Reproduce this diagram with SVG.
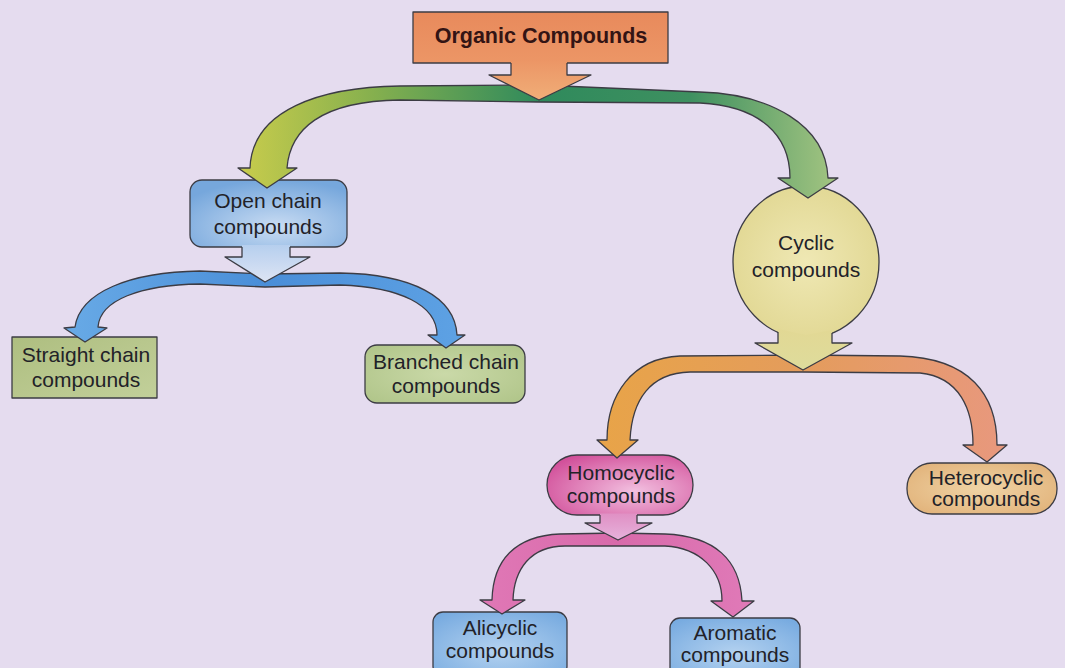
<svg xmlns="http://www.w3.org/2000/svg" width="1065" height="668" viewBox="0 0 1065 668">
<defs>
<style>
.t{font-family:"Liberation Sans",Arial,sans-serif;font-size:21px;fill:#222228;text-anchor:middle}
.tb{font-family:"Liberation Sans",Arial,sans-serif;font-size:21.5px;font-weight:bold;fill:#331414;text-anchor:middle}
.ol{stroke:#3c3c44;stroke-width:1.3;stroke-linejoin:round}
.ln{fill:none;stroke:#3c3c44;stroke-width:1.3;stroke-linejoin:round}
</style>
<radialGradient id="gOpen" cx="0.55" cy="0.7" r="0.7"><stop offset="0" stop-color="#c9dcf3"/><stop offset="1" stop-color="#76a7dc"/></radialGradient>
<radialGradient id="gBlue" cx="0.5" cy="0.6" r="0.7"><stop offset="0" stop-color="#b4d2f0"/><stop offset="1" stop-color="#78abe0"/></radialGradient>
<radialGradient id="gCyc" cx="0.5" cy="0.5" r="0.6"><stop offset="0" stop-color="#efe8b4"/><stop offset="1" stop-color="#e0d690"/></radialGradient>
<radialGradient id="gHomo" cx="0.6" cy="0.6" r="0.7"><stop offset="0" stop-color="#f2c0e0"/><stop offset="1" stop-color="#d2509a"/></radialGradient>
<radialGradient id="gHet" cx="0.5" cy="0.5" r="0.6"><stop offset="0" stop-color="#f0d4a6"/><stop offset="1" stop-color="#e2b47c"/></radialGradient>
<linearGradient id="gStr" x1="0" y1="0" x2="1" y2="1"><stop offset="0" stop-color="#aebe80"/><stop offset="1" stop-color="#c2d09a"/></linearGradient>
<radialGradient id="gBr" cx="0.5" cy="0.5" r="0.7"><stop offset="0" stop-color="#cad9a8"/><stop offset="1" stop-color="#afc488"/></radialGradient>
<linearGradient id="gOrg" x1="0" y1="0" x2="0" y2="1"><stop offset="0" stop-color="#e88a5c"/><stop offset="1" stop-color="#ec9666"/></linearGradient>
<linearGradient id="gOrgStem" x1="0" y1="0" x2="0" y2="1"><stop offset="0" stop-color="#ec9666"/><stop offset="1" stop-color="#f0ae78"/></linearGradient>
<linearGradient id="gOpenStem" x1="0" y1="0" x2="0" y2="1"><stop offset="0" stop-color="#b6cfee"/><stop offset="1" stop-color="#dde4f4"/></linearGradient>
<linearGradient id="gCycStem" x1="0" y1="0" x2="0" y2="1"><stop offset="0" stop-color="#e2d894"/><stop offset="1" stop-color="#dedc9c"/></linearGradient>
<linearGradient id="gHomoStem" x1="0" y1="0" x2="0" y2="1"><stop offset="0" stop-color="#e090c4"/><stop offset="1" stop-color="#e6b2dc"/></linearGradient>
<linearGradient id="bGreen" gradientUnits="userSpaceOnUse" x1="240" y1="0" x2="840" y2="0"><stop offset="0" stop-color="#c8cc4c"/><stop offset="0.22" stop-color="#86b04e"/><stop offset="0.5" stop-color="#2f8a5c"/><stop offset="0.75" stop-color="#3e9060"/><stop offset="1" stop-color="#a6c682"/></linearGradient>
<linearGradient id="bBlue" gradientUnits="userSpaceOnUse" x1="65" y1="0" x2="465" y2="0"><stop offset="0" stop-color="#68aae6"/><stop offset="0.5" stop-color="#4a8ed8"/><stop offset="1" stop-color="#5ea2e4"/></linearGradient>
<linearGradient id="bOrange" gradientUnits="userSpaceOnUse" x1="597" y1="0" x2="1007" y2="0"><stop offset="0" stop-color="#e8a448"/><stop offset="0.5" stop-color="#e49c5c"/><stop offset="1" stop-color="#e8987e"/></linearGradient>
<linearGradient id="bPink" gradientUnits="userSpaceOnUse" x1="480" y1="0" x2="754" y2="0"><stop offset="0" stop-color="#e078b6"/><stop offset="0.5" stop-color="#d86aaa"/><stop offset="1" stop-color="#e07ab8"/></linearGradient>
</defs>
<rect width="1065" height="668" fill="#e5dcef"/>

<g id="organic">
<rect x="413" y="12" width="255" height="51" fill="url(#gOrg)" class="ol"/>
<text x="541" y="43" class="tb">Organic Compounds</text>
</g>
<g id="open-chain">
<rect x="190" y="180" width="157" height="67" rx="12" fill="url(#gOpen)" class="ol"/>
<text x="268" y="208" class="t">Open chain</text>
<text x="268" y="234" class="t">compounds</text>
</g>
<g id="cyclic">
<ellipse cx="806" cy="262" rx="73" ry="76" fill="url(#gCyc)" class="ol"/>
<text x="806" y="250" class="t">Cyclic</text>
<text x="806" y="277" class="t">compounds</text>
</g>
<g id="straight-chain">
<rect x="12" y="337" width="145" height="61" fill="url(#gStr)" class="ol"/>
<text x="86" y="362" class="t">Straight chain</text>
<text x="86" y="387" class="t">compounds</text>
</g>
<g id="branched-chain">
<rect x="365" y="345" width="160" height="58" rx="12" fill="url(#gBr)" class="ol"/>
<text x="446" y="369" class="t">Branched chain</text>
<text x="446" y="393" class="t">compounds</text>
</g>
<g id="homocyclic">
<rect x="547" y="455" width="146" height="60" rx="30" fill="url(#gHomo)" class="ol"/>
<text x="621" y="480" class="t">Homocyclic</text>
<text x="621" y="503" class="t">compounds</text>
</g>
<g id="heterocyclic">
<rect x="907" y="463" width="150" height="51" rx="25" fill="url(#gHet)" class="ol"/>
<text x="986" y="485" class="t" font-size="20">Heterocyclic</text>
<text x="986" y="506" class="t" font-size="20">compounds</text>
</g>
<g id="alicyclic">
<rect x="433" y="612" width="134" height="64" rx="10" fill="url(#gBlue)" class="ol"/>
<text x="500" y="635" class="t">Alicyclic</text>
<text x="500" y="658" class="t">compounds</text>
</g>
<g id="aromatic">
<rect x="670" y="618" width="130" height="60" rx="10" fill="url(#gBlue)" class="ol"/>
<text x="735" y="640" class="t">Aromatic</text>
<text x="735" y="662" class="t">compounds</text>
</g>

<g id="connectors">
<path fill="url(#bGreen)" class="ol" d="M538,85 L400,86 C320,87 252,110 250,168 L238,168 L267,188 L297,168 L287,168 C290,130 320,101 400,100 L538,102 L700,103 C760,106 790,135 790,178 L778,178 L808,198 L838,178 L828,178 C826,125 770,94 700,92 Z"/>
<path fill="url(#bBlue)" class="ol" d="M265,274 L200,271 C130,272 80,292 75,327 L64,328 L85,342 L107,328 L98,327 C100,300 140,285 200,284 L265,287 L340,285 C400,287 437,305 437,335 L428,335 L446,348 L465,335 L457,335 C455,297 412,274 340,273 Z"/>
<path fill="url(#bOrange)" class="ol" d="M802,355 L680,356 C632,358 607,395 607,440 L597,440 L617,458 L638,440 L630,440 C632,400 650,373 690,372 L802,372 L920,373 C960,377 973,410 973,445 L963,445 L987,462 L1007,445 L997,445 C997,395 970,358 900,356 Z"/>
<path fill="url(#bPink)" class="ol" d="M618,533 L560,534 C515,536 493,560 492,600 L480,600 L502,614 L525,600 L513,600 C514,570 530,546 565,546 L618,546 L665,546 C700,548 722,570 722,601 L711,601 L733,617 L754,601 L742,601 C740,560 715,536 665,534 Z"/>
<polygon fill="url(#gOrgStem)" points="511,61 567,61 567,75 591,75 539,100 489,75 511,75"/>
<polyline class="ln" points="511,63 511,75 489,75 539,100 591,75 567,75 567,63"/>
<polygon fill="url(#gOpenStem)" points="242,245 290,245 290,257 310,257 265,282 225,257 242,257"/>
<polyline class="ln" points="242,247 242,257 225,257 265,282 310,257 290,257 290,247"/>
<polygon fill="url(#gCycStem)" points="778,329 806,335 832,330 832,343 852,343 803,370 755,343 778,343"/>
<polyline class="ln" points="778,332 778,343 755,343 803,370 852,343 832,343 832,333"/>
<polygon fill="url(#gHomoStem)" points="600,513.5 637,513.5 637,523 652,523 618,540 585,523 600,523"/>
<polyline class="ln" points="600,515 600,523 585,523 618,540 652,523 637,523 637,515"/>
</g>
</svg>
